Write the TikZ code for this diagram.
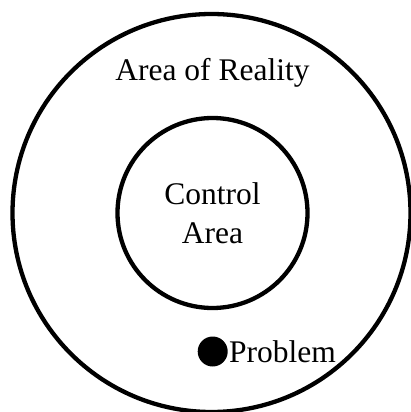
\documentclass[tikz,border=0pt]{standalone}
\usepackage{fontspec}
\setmainfont{Liberation Serif}
\begin{document}
\begin{tikzpicture}[x=1pt,y=-1pt,
  ring/.style={circle,draw=black,line width=4.3pt,inner sep=0pt},
  lbl/.style={font=\fontsize{31.5}{39}\selectfont,align=center,inner sep=0pt}]
\useasboundingbox (0,0) rectangle (411,412);
\begin{scope}
\clip (0,0) rectangle (411,412);
\node[ring,minimum size=398pt] (outer) at (211.5,213) {};
\end{scope}
\node[ring,minimum size=190pt] (inner) at (212.5,213) {};
\node[lbl] (reality) at (212.5,73) {Area of Reality};
\node[lbl] (control) at (inner.center) {Control\\Area};
\node[circle,fill=black,minimum size=30pt,inner sep=0pt] (dot) at (212.7,351.5) {};
\node[lbl,anchor=west] (problem) at ([xshift=1pt]dot.east) {Problem};
\end{tikzpicture}
\end{document}
